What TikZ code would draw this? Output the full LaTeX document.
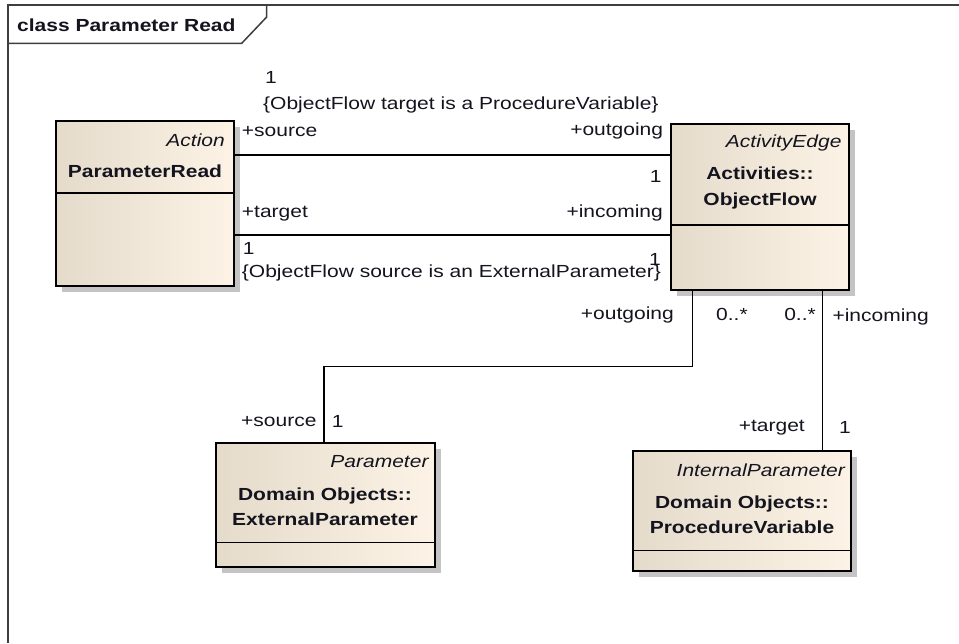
\documentclass[tikz,border=0pt]{standalone}
\usepackage{fontspec}
\setmainfont{Liberation Sans}[FakeStretch=1.2]
\usetikzlibrary{shadows}
\definecolor{boxL}{RGB}{229,219,203}
\definecolor{boxR}{RGB}{252,243,230}
\definecolor{shad}{RGB}{196,196,196}
\definecolor{framec}{RGB}{62,62,62}
\definecolor{txt}{RGB}{20,20,30}
\newcommand\diagfs{\fontsize{17.5}{25.5}\selectfont}
\tikzset{
  classbox/.style={draw=black, line width=1.6pt, left color=boxL, right color=boxR,
    inner sep=0pt, outer sep=0pt, anchor=north west,
    drop shadow={shadow xshift=6pt, shadow yshift=-6pt, fill=shad, opacity=1}},
  divline/.style={draw=black, line width=1.4pt},
  conn/.style={draw=black, line width=1.3pt},
  framestyle/.style={draw=framec, line width=2.2pt},
  tabline/.style={draw=framec, line width=1.5pt},
  lbl/.style={font=\diagfs, text=txt, inner sep=0pt},
  stereo/.style={font=\diagfs\itshape, text=txt, inner sep=0pt, anchor=east},
  cname/.style={font=\diagfs\bfseries, text=txt, inner sep=0pt, align=center},
}
\begin{document}
\begin{tikzpicture}[x=1pt,y=-1pt]
\useasboundingbox (0,0) rectangle (959,643);
\fill[white] (0,0) rectangle (959,643);

% frame
\draw[framestyle] (8,643) -- (8,5) -- (959,5);
\draw[tabline] (8,43.3) -- (241.7,43.3) -- (266.7,17) -- (266.7,5);
\node[font=\diagfs\bfseries, text=txt, inner sep=0pt, anchor=west] (title) at (17,25.5) {class Parameter Read};

% helper coordinates
\coordinate (dpr) at (0,193);
\coordinate (dof) at (0,225);
\coordinate (dep) at (0,542.7);
\coordinate (dpv) at (0,550.7);
\coordinate (ya) at (0,155);
\coordinate (yb) at (0,235);
\coordinate (c1) at (692.7,366.7);
\coordinate (c2) at (324,366.7);
\coordinate (c3) at (822.5,0);

% classes
\node[classbox, minimum width=178pt, minimum height=165pt] (pr) at (56,121) {};
\draw[divline] (pr.west |- dpr) -- (pr.east |- dpr);
\node[stereo] (prs) at (225,140) {Action};
\node[cname] (prn) at (145,171) {ParameterRead};

\node[classbox, minimum width=178pt, minimum height=166pt] (of) at (670.7,124) {};
\draw[divline] (of.west |- dof) -- (of.east |- dof);
\node[stereo] (ofs) at (841.7,142.7) {ActivityEdge};
\node[cname] (ofn) at (760,188) {Activities::\\ObjectFlow};

\node[classbox, minimum width=218.7pt, minimum height=124pt] (ep) at (216,442.7) {};
\draw[divline] (ep.west |- dep) -- (ep.east |- dep);
\node[stereo] (eps) at (428.7,461.7) {Parameter};
\node[cname] (epn) at (325,506.5) {Domain Objects::\\ExternalParameter};

\node[classbox, minimum width=218pt, minimum height=120pt] (pv) at (632.7,450.7) {};
\draw[divline] (pv.west |- dpv) -- (pv.east |- dpv);
\node[stereo] (pvs) at (845,470) {InternalParameter};
\node[cname] (pvn) at (742,514.5) {Domain Objects::\\ProcedureVariable};

% connectors
\draw[conn] (pr.east |- ya) -- (of.west |- ya);
\draw[conn] (pr.east |- yb) -- (of.west |- yb);
\draw[conn] (of.south -| c1) -- (c1) -- (c2) -- (ep.north -| c2);
\draw[conn] (of.south -| c3) -- (pv.north -| c3);

% association labels
\node[lbl, anchor=west] (l1) at (265,77) {1};
\node[lbl, anchor=west] (l2) at (263,105) {\{ObjectFlow target is a ProcedureVariable\}};
\node[lbl, anchor=west] (l3) at (241.7,131.7) {+source};
\node[lbl, anchor=east] (l4) at (663.3,131) {+outgoing};
\node[lbl, anchor=east] (l5) at (661.7,176.7) {1};
\node[lbl, anchor=west] (l6) at (241.7,214) {+target};
\node[lbl, anchor=east] (l7) at (663,212.7) {+incoming};
\node[lbl, anchor=west] (l8) at (242.7,248.3) {1};
\node[lbl, anchor=west] (l9) at (241.7,273.3) {\{ObjectFlow source is an ExternalParameter\}};
\node[lbl, anchor=east, fill=white] (l10) at (661,259) {1};
\node[lbl, anchor=east] (l11) at (674,315) {+outgoing};
\node[lbl, anchor=west] (l12) at (716,314) {0..*};
\node[lbl, anchor=east] (l13) at (816,314) {0..*};
\node[lbl, anchor=west] (l14) at (832.3,316.7) {+incoming};
\node[lbl, anchor=east] (l15) at (316.7,421.7) {+source};
\node[lbl, anchor=west] (l16) at (331.7,421.7) {1};
\node[lbl, anchor=east] (l17) at (805,427.3) {+target};
\node[lbl, anchor=west] (l18) at (839,427) {1};
\end{tikzpicture}
\end{document}
